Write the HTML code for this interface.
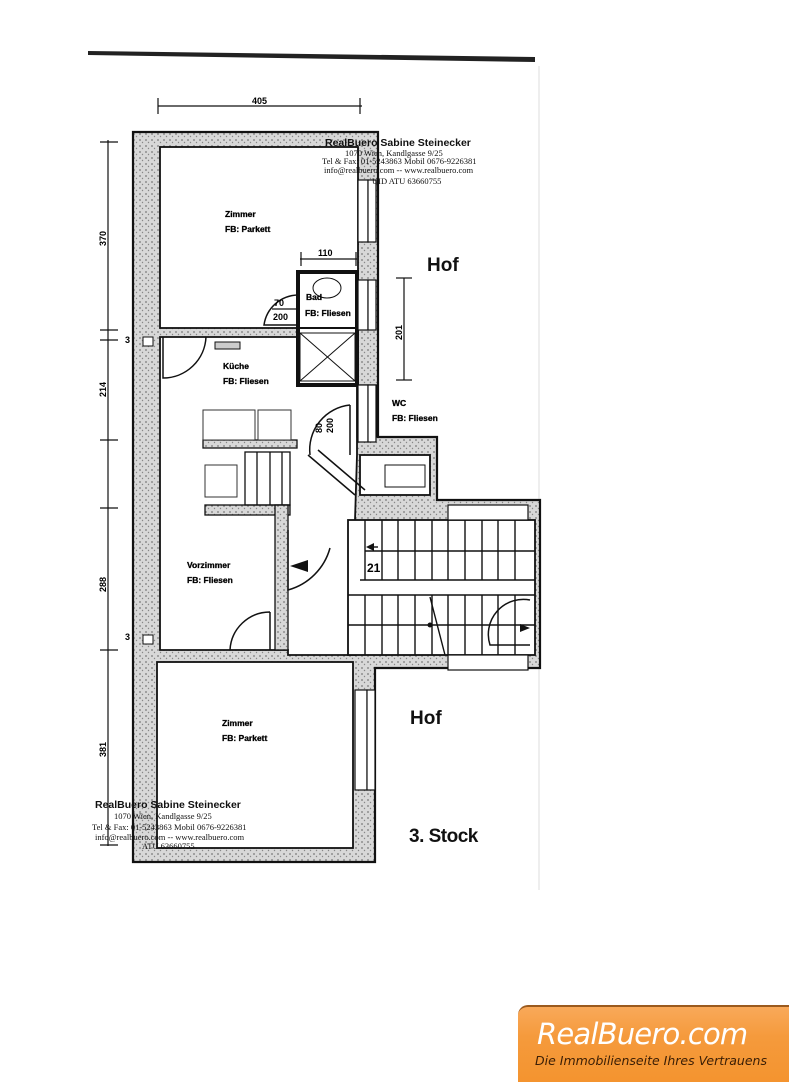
<!DOCTYPE html>
<html><head><meta charset="utf-8"><style>
html,body{margin:0;padding:0;background:#fff;}
body{width:789px;height:1080px;position:relative;overflow:hidden;font-family:"Liberation Sans",sans-serif;}
.logo{position:absolute;left:518px;top:1005px;width:271px;height:75px;border-top-left-radius:10px;background:linear-gradient(#f9a95a,#f59a3c 40%,#f4942f);border-top:2px solid #9a5a1e;}
.l1{position:absolute;left:19px;top:10px;font-size:29px;font-style:italic;color:#fff;font-family:"DejaVu Sans","Liberation Sans",sans-serif;letter-spacing:-0.8px;}
.l2{position:absolute;left:17px;top:46px;font-size:12.5px;font-style:italic;color:#3a1e05;font-family:"DejaVu Sans","Liberation Sans",sans-serif;}
</style></head><body>
<svg width="789" height="1080" style="position:absolute;left:0;top:0" font-family="Liberation Sans, sans-serif">
<defs>
<pattern id="st" width="6" height="6" patternUnits="userSpaceOnUse">
<rect width="6" height="6" fill="#d8d8d8"/><circle cx="2" cy="2" r="0.9" fill="#777"/><circle cx="4.5" cy="4.5" r="0.7" fill="#888"/>
</pattern>
</defs>
<path d="M88 51 L535 57 L535 62 L88 55 Z" fill="#222"/>
<line x1="539" y1="66" x2="539" y2="890" stroke="#ddd" stroke-width="1"/>
<path d="M133 132 L378 132 L378 437 L437 437 L437 500 L540 500 L540 668 L375 668 L375 862 L133 862 Z" fill="url(#st)" stroke="#111" stroke-width="2.2"/>
<g fill="#fff" stroke="#111" stroke-width="1.8">
<rect x="160" y="147" width="198" height="181"/>
<path d="M160 337 L298 337 L298 385 L357 385 L357 455 L355 520 L355 655 L288 655 L288 650 L160 650 Z"/>
<rect x="157" y="662" width="196" height="186"/>
<rect x="360" y="455" width="70" height="40"/>
<rect x="298" y="272" width="59" height="113" stroke-width="4"/>
<rect x="348" y="520" width="187" height="135"/>
</g>
<g fill="url(#st)" stroke="#111" stroke-width="1.3">
<rect x="203" y="440" width="94" height="8"/>
<rect x="205" y="505" width="85" height="10"/>
<rect x="275" y="505" width="13" height="145"/>
<rect x="357" y="385" width="20" height="52"/>
</g>
<line x1="298" y1="328" x2="357" y2="328" stroke="#111" stroke-width="2"/>
<rect x="300" y="333" width="55" height="48" fill="#fff" stroke="#111"/>
<line x1="300" y1="333" x2="355" y2="381" stroke="#111"/><line x1="355" y1="333" x2="300" y2="381" stroke="#111"/>
<ellipse cx="327" cy="288" rx="14" ry="10" fill="#fff" stroke="#111"/>
<g fill="#fff" stroke="#111" stroke-width="1.2">
<rect x="358" y="180" width="10" height="62"/><rect x="368" y="180" width="8" height="62"/>
<rect x="358" y="280" width="10" height="50"/><rect x="368" y="280" width="8" height="50"/>
<rect x="358" y="385" width="10" height="57"/><rect x="368" y="385" width="8" height="57"/>
<rect x="355" y="690" width="12" height="100"/><rect x="367" y="690" width="8" height="100"/>
<rect x="448" y="505" width="80" height="15"/><rect x="448" y="655" width="80" height="15"/>
</g>
<g fill="none" stroke="#111" stroke-width="1.5">
<path d="M163 337 L163 378 A43 43 0 0 0 206 337"/>
<path d="M298 295 A35 35 0 0 0 264 325 L298 325"/>
<path d="M350 405 L350 455 M350 405 A45 45 0 0 0 310 455"/>
<path d="M288 530 L288 590 A60 60 0 0 0 330 548"/>
<path d="M270 612 A40 40 0 0 0 230 650 M270 612 L270 650"/>
<path d="M308 455 L355 495 M318 450 L365 490"/>
<path d="M530 600 A35 35 0 0 0 490 645 L530 645"/>
</g>
<polygon points="290,566 308,560 308,572" fill="#111"/>
<g fill="#fff" stroke="#333" stroke-width="1">
<rect x="203" y="410" width="52" height="30"/><rect x="258" y="410" width="33" height="30"/>
<rect x="205" y="465" width="32" height="32"/>
</g>
<rect x="215" y="342" width="25" height="7" fill="#ccc" stroke="#111"/>
<rect x="143" y="337" width="10" height="9" fill="#fff" stroke="#111"/>
<rect x="143" y="635" width="10" height="9" fill="#fff" stroke="#111"/>
<g stroke="#111" stroke-width="1.3" fill="none">
<rect x="245" y="452" width="45" height="53"/>
<line x1="257" y1="452" x2="257" y2="505"/><line x1="270" y1="452" x2="270" y2="505"/><line x1="282" y1="452" x2="282" y2="505"/>
</g>
<rect x="385" y="465" width="40" height="22" fill="#fff" stroke="#111"/>
<g stroke="#111" stroke-width="1.4">
<line x1="365" y1="551" x2="535" y2="551"/><line x1="360" y1="580" x2="535" y2="580"/>
<line x1="348" y1="595" x2="535" y2="595"/><line x1="348" y1="625" x2="535" y2="625"/>
<line x1="365" y1="520" x2="365" y2="580"/><line x1="382" y1="520" x2="382" y2="580"/><line x1="398" y1="520" x2="398" y2="580"/><line x1="415" y1="520" x2="415" y2="580"/><line x1="432" y1="520" x2="432" y2="580"/><line x1="448" y1="520" x2="448" y2="580"/><line x1="465" y1="520" x2="465" y2="580"/><line x1="482" y1="520" x2="482" y2="580"/><line x1="498" y1="520" x2="498" y2="580"/><line x1="515" y1="520" x2="515" y2="580"/>
<line x1="365" y1="595" x2="365" y2="655"/><line x1="382" y1="595" x2="382" y2="655"/><line x1="398" y1="595" x2="398" y2="655"/><line x1="415" y1="595" x2="415" y2="655"/><line x1="432" y1="595" x2="432" y2="655"/><line x1="448" y1="595" x2="448" y2="655"/><line x1="465" y1="595" x2="465" y2="655"/><line x1="482" y1="595" x2="482" y2="655"/><line x1="498" y1="595" x2="498" y2="655"/><line x1="515" y1="595" x2="515" y2="655"/>
<line x1="430" y1="597" x2="445" y2="655"/>
<line x1="368" y1="547" x2="378" y2="547"/>
</g>
<polygon points="366,547 374,543 374,551" fill="#111"/>
<polygon points="530,628 520,624 520,632" fill="#111"/>
<circle cx="430" cy="625" r="2.5" fill="#111"/>
<text x="367" y="572" font-size="12" font-weight="bold">21</text>
<g stroke="#111" stroke-width="1.2">
<line x1="108" y1="140" x2="108" y2="846"/>
<line x1="100" y1="142" x2="118" y2="142"/><line x1="100" y1="330" x2="118" y2="330"/><line x1="100" y1="340" x2="118" y2="340"/><line x1="100" y1="440" x2="118" y2="440"/><line x1="100" y1="508" x2="118" y2="508"/><line x1="100" y1="650" x2="118" y2="650"/><line x1="100" y1="845" x2="118" y2="845"/>
<line x1="158" y1="106" x2="362" y2="106"/><line x1="158" y1="98" x2="158" y2="114"/><line x1="360" y1="98" x2="360" y2="114"/>
<line x1="300" y1="259" x2="357" y2="259"/><line x1="301" y1="252" x2="301" y2="266"/><line x1="356" y1="252" x2="356" y2="266"/>
<line x1="404" y1="278" x2="404" y2="380"/><line x1="396" y1="278" x2="412" y2="278"/><line x1="396" y1="380" x2="412" y2="380"/>
<line x1="272" y1="309" x2="298" y2="309"/>
</g>
<g font-size="9" font-weight="bold" fill="#000">
<text x="252" y="104">405</text>
<text x="318" y="256">110</text>
<text x="125" y="343">3</text><text x="125" y="640">3</text>
<text transform="translate(106,246) rotate(-90)">370</text>
<text transform="translate(106,397) rotate(-90)">214</text>
<text transform="translate(106,592) rotate(-90)">288</text>
<text transform="translate(106,757) rotate(-90)">381</text>
<text transform="translate(402,340) rotate(-90)">201</text>
<text transform="translate(322,433) rotate(-90)">80</text>
<text transform="translate(333,433) rotate(-90)">200</text>
<text x="274" y="306">70</text><text x="273" y="320">200</text>
<g font-size="8.5" stroke="#000" stroke-width="0.3">
<text x="225" y="217">Zimmer</text><text x="225" y="232">FB:  Parkett</text>
<text x="306" y="300">Bad</text><text x="305" y="316">FB: Fliesen</text>
<text x="223" y="369">Küche</text><text x="223" y="384">FB: Fliesen</text>
<text x="392" y="406">WC</text><text x="392" y="421">FB: Fliesen</text>
<text x="187" y="568">Vorzimmer</text><text x="187" y="583">FB: Fliesen</text>
<text x="222" y="726">Zimmer</text><text x="222" y="741">FB:   Parkett</text>
</g>
</g>
<text x="427" y="271" font-size="19" font-weight="bold" fill="#111">Hof</text>
<text x="410" y="724" font-size="19" font-weight="bold" fill="#111">Hof</text>
<text x="409" y="842" font-size="19" font-weight="bold" fill="#111" letter-spacing="-0.5">3. Stock</text>
<g fill="#111">
<text x="325" y="146" font-size="10.5" font-weight="bold">RealBuero Sabine Steinecker</text>
<g font-family="Liberation Serif, serif" font-size="8.5">
<text x="345" y="156">1070 Wien,  Kandlgasse 9/25</text>
<text x="322" y="164">Tel &amp; Fax: 01-5243863 Mobil 0676-9226381</text>
<text x="324" y="173">info@realbuero.com -- www.realbuero.com</text>
<text x="372" y="184">UID ATU 63660755</text>
</g>
<text x="95" y="808" font-size="10.5" font-weight="bold">RealBuero Sabine Steinecker</text>
<g font-family="Liberation Serif, serif" font-size="8.5">
<text x="114" y="819">1070 Wien,  Kandlgasse 9/25</text>
<text x="92" y="830">Tel &amp; Fax: 01-5243863 Mobil 0676-9226381</text>
<text x="95" y="840">info@realbuero.com -- www.realbuero.com</text>
<text x="142" y="849">ATU 63660755</text>
</g>
</g>
</svg>
<div class="logo"><div class="l1">RealBuero.com</div><div class="l2">Die Immobilienseite Ihres Vertrauens</div></div>
</body></html>
